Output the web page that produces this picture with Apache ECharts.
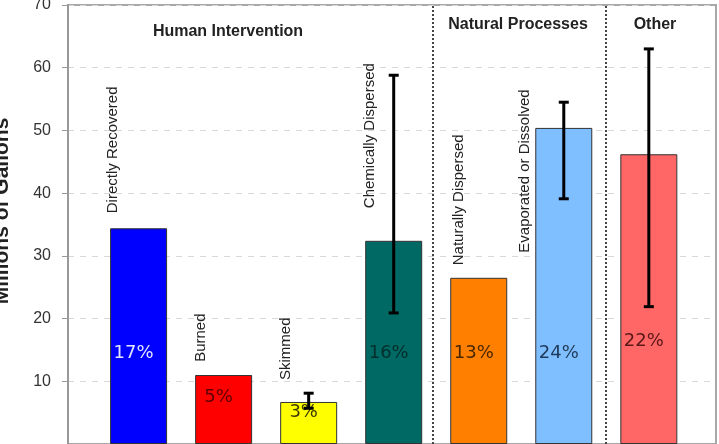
<!DOCTYPE html>
<html lang="en">
  <head>
    <meta charset="UTF-8" />
    <title>Oil budget</title>
    <script src="https://cdn.jsdelivr.net/npm/echarts/dist/echarts.min.js"></script>
    <style>
      * {
        margin: 0;
        padding: 0;
      }
      html,
      body {
        background: #fff;
      }
    </style>
  </head>
  <body>
    <div id="charts" style="width: 719px; height: 444px"></div>
    <script>
      // values (millions of gallons)
      var categories = [
        "Directly Recovered",
        "Burned",
        "Skimmed",
        "Chemically Dispersed",
        "Naturally Dispersed",
        "Evaporated or Dissolved",
        "Other",
      ];
      var values = [34.4, 11.0, 6.7, 32.4, 26.5, 50.4, 46.2];
      var percents = ["17%", "5%", "3%", "16%", "13%", "24%", "22%"];
      var errLow = [null, null, 5.7, 20.9, null, 39.1, 21.9];
      var errHigh = [null, null, 8.1, 58.8, null, 54.5, 63.0];
      var groups = ["Human Intervention", "Natural Processes", "Other"];
      var yTicks = [10, 20, 30, 40, 50, 60, 70];

      // look
      var barColors = ["#0000ff", "#ff0000", "#ffff00", "#006963", "#ff8000", "#80bfff", "#ff6666"];
      var pctColors = ["#e4e4ff", "#5a0000", "#3c3a00", "#012e2c", "#4a2600", "#1e3a5a", "#5a1818"];
      // where the percent text sits (y value) and where the rotated name starts
      var pctAt = [14.5, 7.5, 5.1, 14.5, 14.5, 14.5, 16.3];
      var nameAt = [36.8, 13.1, 10.2, 37.6, 28.5, 30.5, null];
      var nameShift = [-26, -23, -23, -24, -20, -39, 0];
      var groupPos = [
        { x: 228, y: 32 },
        { x: 518, y: 25 },
        { x: 655, y: 25 },
      ];

      var myEcharts = echarts.init(document.getElementById("charts"));

      var barData = values.map(function (v, i) {
        return {
          value: [i, v],
          itemStyle: { color: barColors[i] },
        };
      });
      var errData = [];
      values.forEach(function (v, i) {
        if (errLow[i] != null) errData.push([i, errLow[i], errHigh[i]]);
      });
      var pctData = values.map(function (v, i) {
        return [i, pctAt[i]];
      });
      var nameData = [];
      categories.forEach(function (c, i) {
        if (nameAt[i] != null) nameData.push([i, nameAt[i]]);
      });

      var options = {
        animation: false,
        grid: {
          left: 68,
          right: 3,
          top: 5,
          bottom: 0,
          outerBoundsMode: "none",
          containLabel: false,
          show: true,
          borderColor: "#a8a8a8",
          borderWidth: 2,
        },
        xAxis: {
          type: "value",
          min: -0.83,
          max: 6.79,
          axisLine: { show: false },
          axisTick: { show: false },
          axisLabel: { show: false },
          splitLine: { show: false },
        },
        yAxis: {
          type: "value",
          min: 0,
          max: 70,
          interval: 10,
          name: "Millions of Gallons",
          nameLocation: "middle",
          nameGap: 55,
          nameTextStyle: {
            fontFamily: "Arial, Liberation Sans",
            fontSize: 21,
            fontWeight: "bold",
            color: "#222",
            padding: [0, 0, 0, 27],
          },
          axisLine: { show: true, onZero: false, lineStyle: { color: "#999", width: 2 } },
          axisTick: { show: true, length: 6, lineStyle: { color: "#999" } },
          axisLabel: {
            fontFamily: "Arial, Liberation Sans",
            fontSize: 16,
            color: "#333",
            margin: 17,
            formatter: function (v) {
              return yTicks.indexOf(v) >= 0 ? String(v) : "";
            },
          },
          splitLine: {
            show: true,
            lineStyle: { color: "#d8d8d8", type: [6, 6] },
          },
        },
        graphic: groups.map(function (g, i) {
          return {
            type: "text",
            x: groupPos[i].x,
            y: groupPos[i].y,
            style: {
              text: g,
              fontFamily: "Arial, Liberation Sans",
              fontSize: 16,
              fontWeight: "bold",
              fill: "#222",
              align: "center",
              verticalAlign: "middle",
            },
          };
        }),
        series: [
          {
            type: "bar",
            data: barData,
            barWidth: 57,
            itemStyle: { borderColor: "#333", borderWidth: 1 },
            markLine: {
              silent: true,
              symbol: "none",
              label: { show: false },
              lineStyle: { color: "#444", type: [2, 2], width: 2 },
              data: [{ xAxis: 3.46 }, { xAxis: 5.49 }],
            },
          },
          {
            type: "custom",
            data: pctData,
            z: 3,
            renderItem: function (params, api) {
              var i = api.value(0);
              var p = api.coord([i, api.value(1)]);
              return {
                type: "text",
                x: p[0] - 5,
                y: p[1],
                style: {
                  text: percents[i],
                  fontFamily: "DejaVu Sans",
                  fontSize: 18,
                  fill: pctColors[i],
                  align: "center",
                  verticalAlign: "middle",
                },
              };
            },
          },
          {
            type: "custom",
            data: nameData,
            z: 3,
            renderItem: function (params, api) {
              var i = api.value(0);
              var p = api.coord([i, api.value(1)]);
              return {
                type: "text",
                x: p[0] + nameShift[i],
                y: p[1],
                rotation: Math.PI / 2,
                style: {
                  text: categories[i],
                  fontFamily: "Arial, Liberation Sans",
                  fontSize: 15,
                  fill: "#222",
                  align: "left",
                  verticalAlign: "middle",
                },
              };
            },
          },
          {
            type: "custom",
            data: errData,
            z: 4,
            renderItem: function (params, api) {
              var lo = api.coord([api.value(0), api.value(1)]);
              var hi = api.coord([api.value(0), api.value(2)]);
              var st = { stroke: "#000", lineWidth: 3 };
              return {
                type: "group",
                children: [
                  { type: "line", shape: { x1: lo[0], y1: lo[1], x2: hi[0], y2: hi[1] }, style: st },
                  { type: "line", shape: { x1: hi[0] - 5, y1: hi[1], x2: hi[0] + 5, y2: hi[1] }, style: st },
                  { type: "line", shape: { x1: lo[0] - 5, y1: lo[1], x2: lo[0] + 5, y2: lo[1] }, style: st },
                ],
              };
            },
          },
        ],
      };
      myEcharts.setOption(options);
    </script>
  </body>
</html>
